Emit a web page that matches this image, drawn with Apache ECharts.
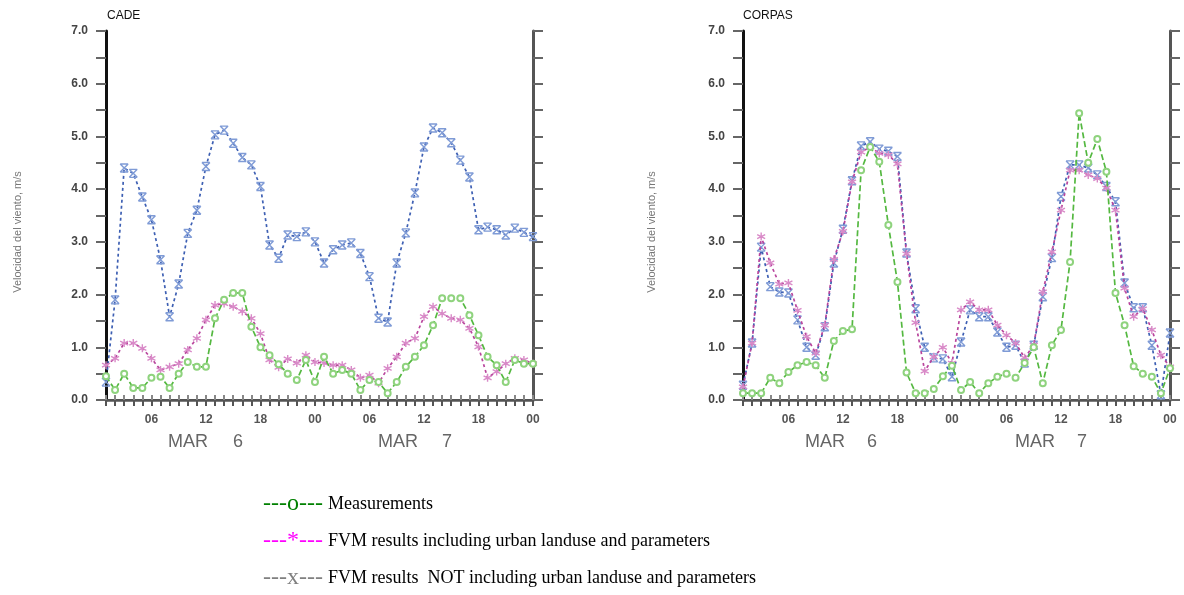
<!DOCTYPE html>
<html><head><meta charset="utf-8">
<script src="https://cdn.jsdelivr.net/npm/echarts@6/dist/echarts.min.js"></script>
<style>html,body{margin:0;padding:0;background:#fff}#c{width:1184px;height:595px}</style>
</head><body><div id="c"></div>
<script>
// Hourly categories from MAR 6 01:00 to MAR 8 00:00
const hours = ['01','02','03','04','05','06','07','08','09','10','11','12','13','14','15','16','17','18','19','20','21','22','23','00',
               '01','02','03','04','05','06','07','08','09','10','11','12','13','14','15','16','17','18','19','20','21','22','23','00'];
const labeledHours = ['00','06','12','18'];
const yTicks = [0,1,2,3,4,5,6,7];

// CADE station
const cadeMeas = [0.45,0.19,0.5,0.23,0.23,0.42,0.44,0.23,0.5,0.72,0.63,0.63,1.55,1.9,2.03,2.03,1.39,1.0,0.85,0.68,0.5,0.38,0.76,0.34,
                  0.82,0.5,0.57,0.5,0.19,0.38,0.34,0.13,0.34,0.63,0.82,1.04,1.42,1.93,1.93,1.93,1.61,1.23,0.82,0.66,0.34,0.76,0.69,0.69];
const cadeUrban = [0.66,0.79,1.08,1.08,0.98,0.79,0.57,0.63,0.69,0.95,1.17,1.52,1.8,1.83,1.77,1.68,1.55,1.26,0.76,0.62,0.78,0.7,0.85,0.72,
                   0.7,0.66,0.66,0.57,0.42,0.47,0.32,0.6,0.82,1.08,1.17,1.58,1.77,1.64,1.55,1.52,1.36,1.01,0.42,0.54,0.69,0.79,0.76,0.69];
const cadeNoUrban = [0.34,1.9,4.4,4.3,3.85,3.42,2.66,1.58,2.2,3.16,3.6,4.43,5.03,5.12,4.87,4.6,4.46,4.05,2.94,2.69,3.13,3.1,3.19,3.0,
                     2.6,2.85,2.94,2.98,2.78,2.34,1.55,1.48,2.6,3.17,3.93,4.8,5.16,5.07,4.88,4.55,4.23,3.23,3.28,3.23,3.13,3.26,3.18,3.1];

// CORPAS station
const corpasMeas = [0.13,0.13,0.13,0.42,0.32,0.53,0.66,0.72,0.66,0.42,1.12,1.31,1.34,4.36,4.8,4.52,3.32,2.24,0.52,0.13,0.13,0.21,0.45,0.65,
                    0.19,0.34,0.13,0.32,0.44,0.5,0.42,0.7,1.0,0.32,1.04,1.33,2.62,5.44,4.5,4.95,4.33,2.03,1.42,0.64,0.5,0.44,0.13,0.6];
const corpasUrban = [0.25,1.08,3.1,2.6,2.2,2.22,1.7,1.2,0.89,1.42,2.67,3.2,4.14,4.7,4.8,4.68,4.65,4.48,2.77,1.47,0.55,0.82,1.0,0.7,
                     1.71,1.86,1.71,1.71,1.42,1.23,1.08,0.8,1.04,2.05,2.81,3.6,4.36,4.36,4.27,4.2,4.02,3.6,2.12,1.58,1.73,1.33,0.85,0.63];
const corpasNoUrban = [0.28,1.08,2.9,2.15,2.05,2.03,1.52,1.0,0.85,1.39,2.6,3.24,4.16,4.82,4.9,4.76,4.72,4.62,2.79,1.73,1.0,0.8,0.78,0.44,
                       1.1,1.71,1.58,1.58,1.29,1.0,1.04,0.7,1.04,1.96,2.7,3.86,4.46,4.46,4.4,4.27,4.05,3.76,2.22,1.75,1.75,1.04,0.1,1.27];

const stations = ['CADE','CORPAS'];
const yTitle = 'Velocidad del viento, m/s';
const legendItems = [
  {sym:'---o---', color:'#008000', text:'Measurements'},
  {sym:'---*---', color:'#ff00ff', text:'FVM results including urban landuse and parameters'},
  {sym:'---x---', color:'#808080', text:'FVM results  NOT including urban landuse and parameters'}
];

const FONT = 'Liberation Sans, Arial, sans-serif';
const SERIF = 'Liberation Serif, Times New Roman, serif';
const grids = [
  {left:106, right:651, top:31, bottom:195},
  {left:743, right:14, top:31, bottom:195}
];

const XSYM = 'path://M0,0L10,0M0,0L10,10M10,0L0,10M0,10L10,10';
const STAR = 'path://M5,0L5,10M0,2.5L10,7.5M0,7.5L10,2.5';

function lineSeries(name, data, g, lineColor, markColor, symbol, size, z, dash) {
  const isCircle = symbol === 'emptyCircle';
  return {
    name, type:'line', xAxisIndex:g*2, yAxisIndex:g*2, data,
    symbol, symbolSize:size, showAllSymbol:true, z,
    lineStyle:{color:lineColor, width:1.7, type:dash},
    itemStyle: isCircle ? {color:markColor, borderWidth:1.3}
                        : {color:'rgba(0,0,0,0)', borderColor:markColor, borderWidth:1.4},
    emphasis:{disabled:true}, animation:false
  };
}

const xAxes = [], yAxes = [], series = [];
grids.forEach((gr, g) => {
  xAxes.push({
    type:'category', gridIndex:g, data:hours, boundaryGap:false, position:'bottom',
    axisLine:{lineStyle:{color:'#444', width:2}},
    axisTick:{interval:0, length:6, lineStyle:{color:'#555', width:2}},
    axisLabel:{interval:(i, v) => labeledHours.includes(v), color:'#555', fontSize:12, fontWeight:'bold', margin:14, fontFamily:FONT},
    splitLine:{show:false}
  });
  xAxes.push({
    type:'category', gridIndex:g, data:hours, boundaryGap:false, position:'top',
    axisLine:{lineStyle:{color:'#555', width:2.5}},
    axisTick:{interval:0, length:5, lineStyle:{color:'#888', width:2}},
    axisLabel:{show:false}, splitLine:{show:false}
  });
  yAxes.push({
    type:'value', gridIndex:g, min:0, max:7, interval:0.5, position:'left',
    axisLine:{show:true, lineStyle:{color:'#111', width:3}},
    axisTick:{show:true, length:10, lineStyle:{color:'#666', width:2}},
    axisLabel:{formatter:v => yTicks.includes(v) ? v.toFixed(1) : '', color:'#444', fontSize:12, fontWeight:'bold', margin:18, fontFamily:FONT},
    splitLine:{show:false}
  });
  yAxes.push({
    type:'value', gridIndex:g, min:0, max:7, interval:0.5, position:'right',
    axisLine:{show:true, lineStyle:{color:'#555', width:3}},
    axisTick:{show:true, length:10, lineStyle:{color:'#666', width:2}},
    axisLabel:{show:false}, splitLine:{show:false}
  });
});

const sets = [[cadeMeas, cadeUrban, cadeNoUrban], [corpasMeas, corpasUrban, corpasNoUrban]];
sets.forEach(([meas, urban, noUrban], g) => {
  series.push(lineSeries('FVM NOT urban', noUrban, g, '#3d5fb3', '#7f9bd6', XSYM, 8, 2, [3,3]));
  series.push(lineSeries('FVM urban', urban, g, '#b8449c', '#d98ac8', STAR, 8, 3, [3,3]));
  series.push(lineSeries('Measurements', meas, g, '#54b840', '#8fd37e', 'emptyCircle', 6, 4, [6,3]));
});

const graphics = [];
graphics.push({type:'text', x:107, y:16, style:{text:stations[0], fill:'#111', font:'12px '+FONT, verticalAlign:'middle'}});
graphics.push({type:'text', x:743, y:16, style:{text:stations[1], fill:'#111', font:'12px '+FONT, verticalAlign:'middle'}});
[18, 652].forEach(x => graphics.push({type:'text', x, y:232, rotation:Math.PI/2,
  style:{text:yTitle, fill:'#777', font:'11px '+FONT, align:'center', verticalAlign:'middle'}}));
[[168,'MAR'],[233,'6'],[378,'MAR'],[442,'7'],[805,'MAR'],[867,'6'],[1015,'MAR'],[1077,'7']].forEach(([x,t]) =>
  graphics.push({type:'text', x, y:442, style:{text:t, fill:'#666', font:'18px '+FONT, verticalAlign:'middle'}}));
legendItems.forEach((it, i) => {
  const y = 504 + i*37;
  graphics.push({type:'text', x:263, y, style:{text:it.sym, fill:it.color, font:'24px '+SERIF, verticalAlign:'middle'}});
  graphics.push({type:'text', x:328, y, style:{text:it.text, fill:'#000', font:'18px '+SERIF, verticalAlign:'middle'}});
});

const chart = echarts.init(document.getElementById('c'), null, {renderer:'canvas'});
chart.setOption({
  animation:false,
  backgroundColor:'#fff',
  grid:grids,
  xAxis:xAxes,
  yAxis:yAxes,
  series,
  graphic:graphics
});
</script></body></html>
